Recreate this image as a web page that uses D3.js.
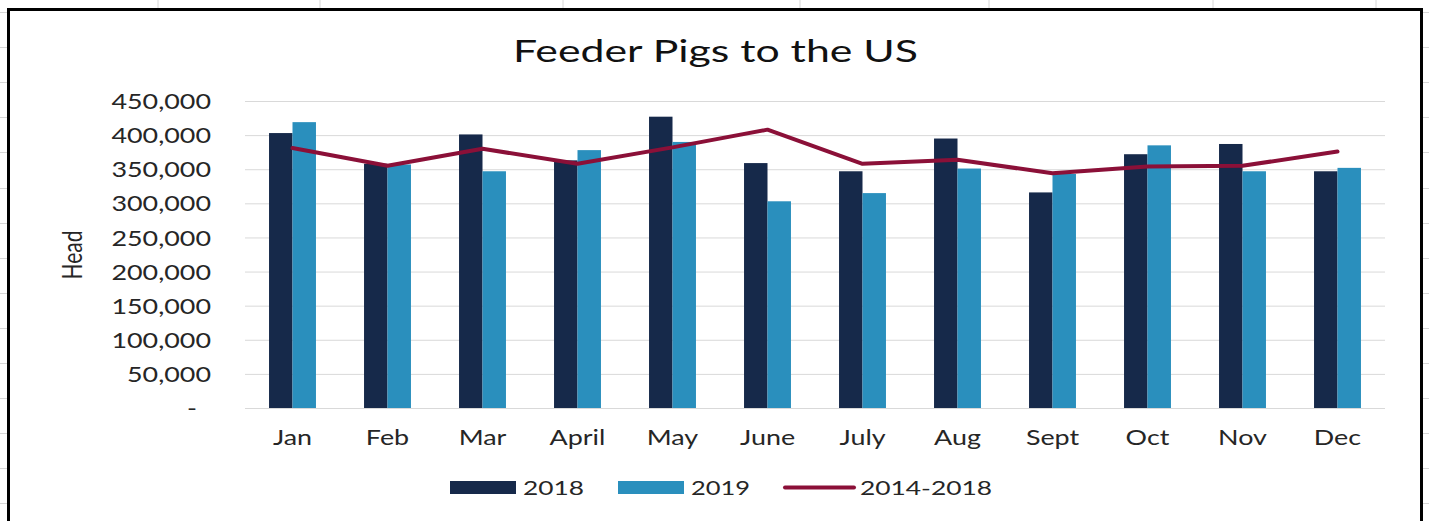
<!DOCTYPE html>
<html>
<head>
<meta charset="utf-8">
<script src="https://cdn.jsdelivr.net/npm/d3@7"></script>
<style>
  body { margin: 0; background: #fff; overflow: hidden; }
  text { font-family: Lato, "Open Sans", sans-serif; }
</style>
</head>
<body>
<div id="chart"></div>
<script>
// data
var months = ["Jan", "Feb", "Mar", "April", "May", "June", "July", "Aug", "Sept", "Oct", "Nov", "Dec"];
var head2018 = [403000, 358000, 401000, 363000, 427000, 359000, 347000, 395000, 316000, 372000, 387000, 347000];
var head2019 = [419000, 357000, 347000, 378000, 390000, 303000, 315000, 351000, 343000, 385000, 347000, 352000];
var avg1418 = [381000, 355000, 380000, 358000, 382000, 408000, 358000, 364000, 344000, 354000, 355000, 376000];
var yTicks = [0, 50000, 100000, 150000, 200000, 250000, 300000, 350000, 400000, 450000];
var seriesNames = ["2018", "2019", "2014-2018"];

const W = 1429, H = 521;
const SX = 1.28; // the picture is stretched sideways a bit
const c2018 = "#16294a", c2019 = "#2a8fbd", cAvg = "#8b1038";

const svg = d3.select("#chart").append("svg")
    .attr("width", W)
    .attr("height", H);

// spreadsheet cells behind the chart
const sheetCols = [158, 320, 563, 800, 989, 1213, 1376];
svg.append("g").selectAll("line")
    .data(sheetCols)
    .enter().append("line")
    .attr("x1", d => d).attr("x2", d => d)
    .attr("y1", 0).attr("y2", 9)
    .attr("stroke", "#d6d6d6");
const sheetRows = d3.range(12, H, 35.1);
svg.append("g").selectAll("line")
    .data(sheetRows)
    .enter().append("line")
    .attr("x1", 0).attr("x2", 8)
    .attr("y1", d => Math.round(d) + 0.5).attr("y2", d => Math.round(d) + 0.5)
    .attr("stroke", "#d6d6d6");
svg.append("g").selectAll("line")
    .data(sheetRows)
    .enter().append("line")
    .attr("x1", 1423).attr("x2", W)
    .attr("y1", d => Math.round(d) + 0.5).attr("y2", d => Math.round(d) + 0.5)
    .attr("stroke", "#d6d6d6");

// chart frame
svg.append("rect")
    .attr("x", 8.5).attr("y", 9.5)
    .attr("width", 1413).attr("height", 540)
    .attr("fill", "#fff")
    .attr("stroke", "#000")
    .attr("stroke-width", 3);

// scales
const x = d3.scaleBand().domain(months).range([245, 1385]).padding(0);
const y = d3.scaleLinear().domain([0, 450000]).range([408, 101]);
const barW = x.bandwidth() * 0.247;

// gridlines
svg.append("g")
    .attr("transform", "translate(245,0)")
    .call(d3.axisLeft(y).tickValues(yTicks).tickSize(-1140).tickFormat(""))
    .call(g => g.select(".domain").remove())
    .call(g => g.selectAll("line").attr("stroke", "#d9d9d9"));

// y axis labels
const yAxis = svg.append("g")
    .attr("transform", "translate(245,0)")
    .call(d3.axisLeft(y).tickValues(yTicks).tickSize(0)
        .tickFormat(d => d === 0 ? "-" : d3.format(",")(d)));
yAxis.select(".domain").remove();
yAxis.selectAll("text")
    .attr("x", null)
    .attr("dy", "0.36em")
    .attr("transform", d => `translate(${d === 0 ? -48 : -34},0) scale(${SX},1)`)
    .attr("font-size", 21)
    .attr("font-family", "Lato")
    .attr("fill", "#262626");

// x axis labels
const xAxis = svg.append("g")
    .attr("transform", "translate(0,408)")
    .call(d3.axisBottom(x).tickSize(0));
xAxis.select(".domain").remove();
xAxis.selectAll("text")
    .attr("y", null)
    .attr("dy", null)
    .attr("transform", `translate(0,37) scale(${SX},1)`)
    .attr("font-size", 21)
    .attr("font-family", "Lato")
    .attr("fill", "#262626");

// bars
svg.append("g").selectAll("rect")
    .data(months)
    .enter().append("rect")
    .attr("x", d => x(d) + x.bandwidth() / 2 - barW)
    .attr("y", (d, i) => y(head2018[i]))
    .attr("width", barW)
    .attr("height", (d, i) => y(0) - y(head2018[i]))
    .attr("fill", c2018);

svg.append("g").selectAll("rect")
    .data(months)
    .enter().append("rect")
    .attr("x", d => x(d) + x.bandwidth() / 2)
    .attr("y", (d, i) => y(head2019[i]))
    .attr("width", barW)
    .attr("height", (d, i) => y(0) - y(head2019[i]))
    .attr("fill", c2019);

// 5 year line
const line = d3.line()
    .x((d, i) => x(months[i]) + x.bandwidth() / 2)
    .y(d => y(d));
svg.append("path")
    .datum(avg1418)
    .attr("d", line)
    .attr("fill", "none")
    .attr("stroke", cAvg)
    .attr("stroke-width", 4)
    .attr("stroke-linejoin", "round")
    .attr("stroke-linecap", "round");

// title
svg.append("text")
    .attr("x", 513).attr("y", 62)
    .attr("font-size", 30)
    .attr("textLength", 405)
    .attr("lengthAdjust", "spacingAndGlyphs")
    .attr("fill", "#111")
    .text("Feeder Pigs to the US");

// y axis title
svg.append("text")
    .attr("transform", `translate(82,255) scale(${SX},1) rotate(-90)`)
    .attr("text-anchor", "middle")
    .attr("font-size", 21)
    .attr("fill", "#262626")
    .text("Head");

// legend
const legend = [
    { name: seriesNames[0], type: "rect", color: c2018, sx: 450, tx: 523, tw: 61 },
    { name: seriesNames[1], type: "rect", color: c2019, sx: 618, tx: 691, tw: 59 },
    { name: seriesNames[2], type: "line", color: cAvg, sx: 783, tx: 860, tw: 132 }
];
const lg = svg.append("g");
legend.forEach(function (d) {
    if (d.type === "rect") {
        lg.append("rect")
            .attr("x", d.sx).attr("y", 481)
            .attr("width", 66).attr("height", 13)
            .attr("fill", d.color);
    } else {
        lg.append("line")
            .attr("x1", d.sx + 2).attr("x2", d.sx + 71)
            .attr("y1", 487.5).attr("y2", 487.5)
            .attr("stroke", d.color)
            .attr("stroke-width", 4)
            .attr("stroke-linecap", "round");
    }
    lg.append("text")
        .attr("x", d.tx).attr("y", 495)
        .attr("font-size", 20)
        .attr("textLength", d.tw)
        .attr("lengthAdjust", "spacingAndGlyphs")
        .attr("fill", "#262626")
        .text(d.name);
});
</script>
</body>
</html>
